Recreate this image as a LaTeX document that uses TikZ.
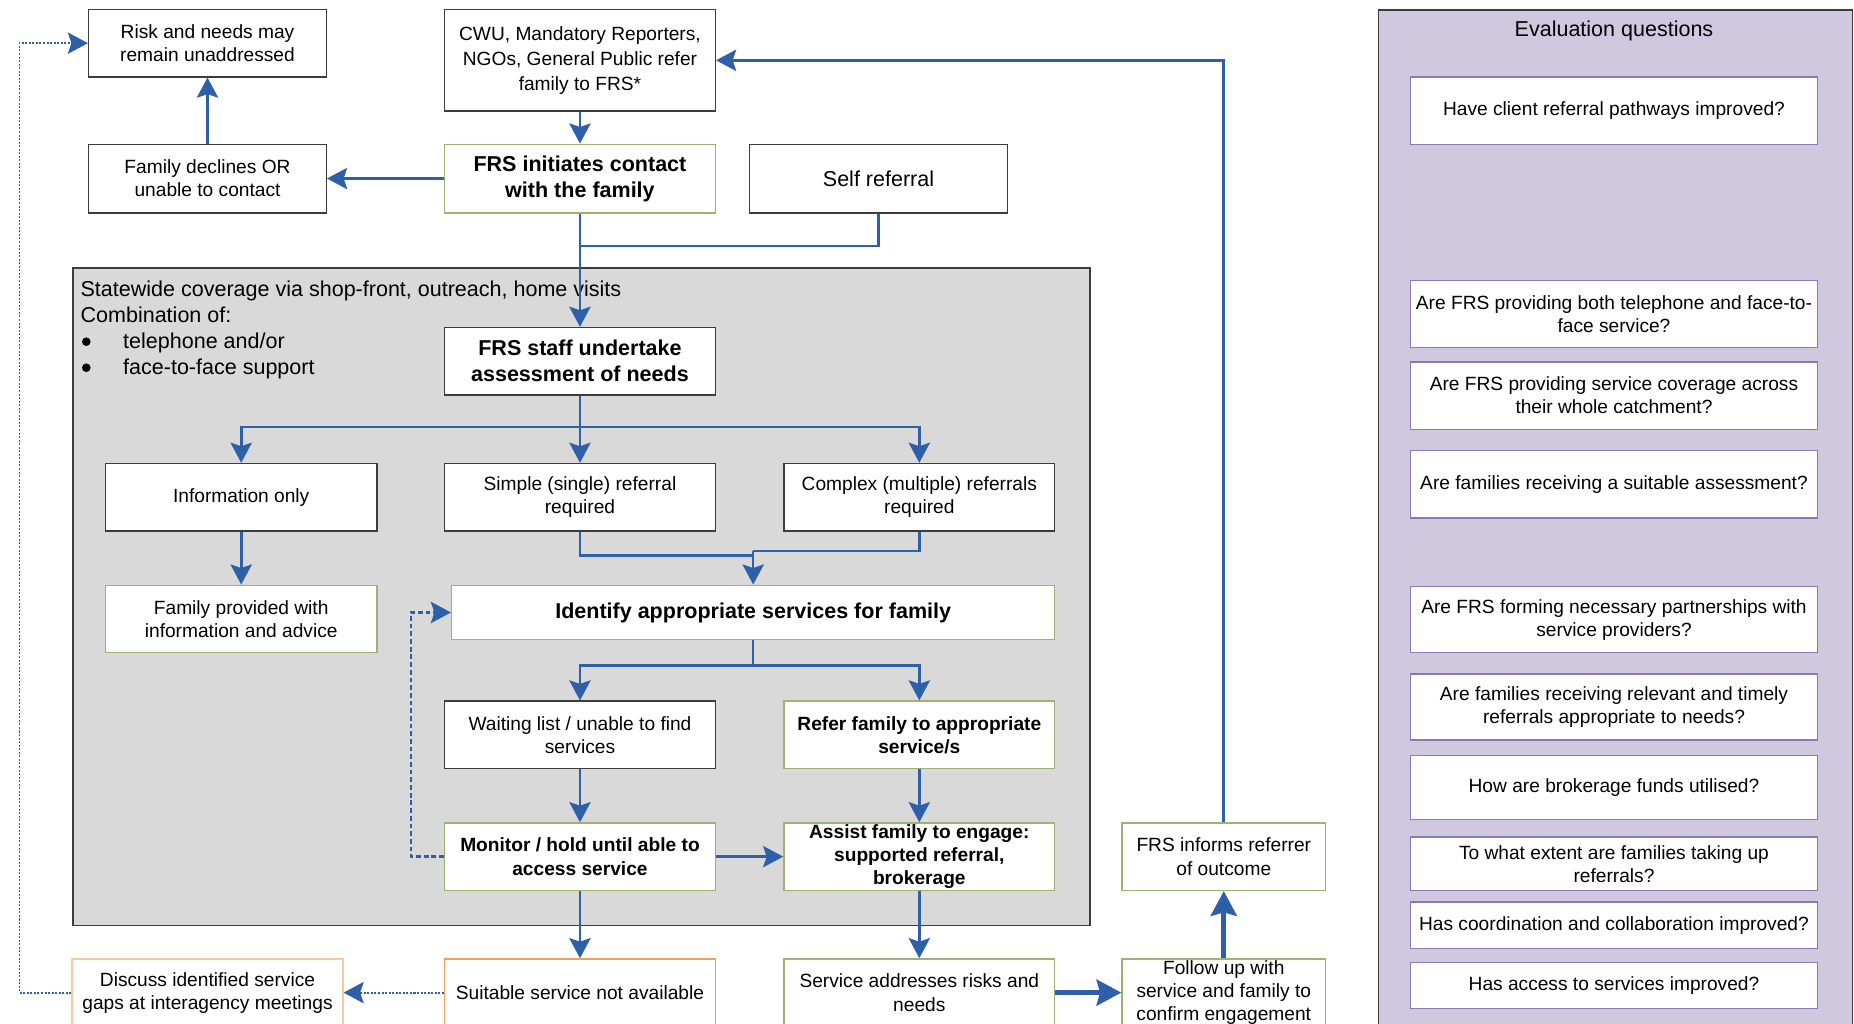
\documentclass[tikz,border=0pt]{standalone}
\usepackage{fontspec}
\setmainfont{Liberation Sans}
\usetikzlibrary{arrows.meta}
\definecolor{cblue}{RGB}{46,96,170}
\definecolor{cgreen}{RGB}{158,178,118}
\definecolor{corange}{RGB}{242,160,90}
\definecolor{cpeach}{RGB}{250,200,160}
\definecolor{cgrayfill}{RGB}{217,217,217}
\definecolor{cpurple}{RGB}{208,200,222}
\definecolor{cpurpleline}{RGB}{140,120,180}
\definecolor{cdark}{RGB}{60,60,60}
\newcommand\fsn{\fontsize{16.2}{19.5}\selectfont}
\newcommand\fsnb{\fontsize{16.2}{19.5}\selectfont\bfseries}
\newcommand\fsb{\fontsize{18.2}{22}\selectfont\bfseries}
\newcommand\fsl{\fontsize{18.2}{22}\selectfont}
\begin{document}
\begin{tikzpicture}[x=1pt,y=-1pt,
  box/.style={draw=cdark, line width=1.2pt, fill=white, align=center, inner xsep=2pt, inner ysep=1pt, font=\fsn},
  gbox/.style={box, draw=cgreen},
  obox/.style={box, draw=corange},
  pbox/.style={box, draw=cpeach},
  qbox/.style={box, draw=cpurpleline, minimum width=344pt},
  conn/.style={draw=cblue, line width=2.2pt},
  arr/.style={conn, -{Stealth[length=17pt,width=18pt,inset=3pt]}},
  thickarr/.style={draw=cblue, line width=4pt, -{Stealth[length=21pt,width=22pt,inset=3pt]}},
  dasharr/.style={draw=cblue, line width=2pt, dash pattern=on 4pt off 2.5pt, -{Stealth[length=17pt,width=18pt,inset=3pt]}},
  dotarr/.style={draw=cblue, line width=1.5pt, dash pattern=on 1.7pt off 1.3pt, -{Stealth[length=17pt,width=18pt,inset=3pt]}},
  txt/.style={anchor=base west, inner sep=0pt, font=\fsl},
  bullet/.style={circle, fill=black, inner sep=0pt, minimum size=7.3pt}
]
\useasboundingbox (0,0) rectangle (1568,866);
\clip (0,0) rectangle (1568,866);
\fill[white] (0,0) rectangle (1568,866);

% panels
\node[draw=cdark, line width=1.5pt, fill=cgrayfill, anchor=north west, minimum width=860pt, minimum height=556pt, inner sep=0pt] (panel) at (61,226) {};
\node[draw=cdark, line width=1.5pt, fill=cpurple, anchor=north west, minimum width=401pt, minimum height=900pt, inner sep=0pt] (evalpanel) at (1165,8) {};
\node[font=\fsl] (evtitle) at (1365,26) {Evaluation questions};

% panel text
\node[txt] (sw1) at (68,250.5) {Statewide coverage via shop-front, outreach, home visits};
\node[txt] (sw2) at (68,272.5) {Combination of:};
\node[bullet] (bul1) at (73,289) {};
\node[txt] (sw3) at (104,294.5) {telephone and/or};
\node[bullet] (bul2) at (73,311) {};
\node[txt] (sw4) at (104,316.5) {face-to-face support};

% flow boxes
\node[box, minimum width=201pt, minimum height=57pt] (risk) at (175.5,36.5) {Risk and needs may\\remain unaddressed};
\node[box, minimum width=229pt, minimum height=86pt, font=\fontsize{16.2}{21}\selectfont] (cwu) at (490.5,51) {CWU, Mandatory Reporters,\\NGOs, General Public refer\\family to FRS*};
\node[box, minimum width=201pt, minimum height=58pt] (decl) at (175.5,151) {Family declines OR\\unable to contact};
\node[gbox, minimum width=229pt, minimum height=58pt, font=\fsb] (init) at (490.5,151) {FRS initiates contact\\with the family};
\node[box, minimum width=218pt, minimum height=58pt, font=\fsl] (self) at (743,151) {Self referral};
\node[box, minimum width=229pt, minimum height=57pt, font=\fsb] (staff) at (490.5,305.5) {FRS staff undertake\\assessment of needs};
\node[box, minimum width=230pt, minimum height=57pt] (info) at (204,420.5) {Information only};
\node[box, minimum width=229pt, minimum height=57pt] (simple) at (490.5,420.5) {Simple (single) referral\\required};
\node[box, minimum width=229pt, minimum height=57pt] (complex) at (777.5,420.5) {Complex (multiple) referrals\\required};
\node[gbox, minimum width=230pt, minimum height=57pt] (provided) at (204,523.5) {Family provided with\\information and advice};
\node[gbox, minimum width=510pt, minimum height=46pt, font=\fsb] (identify) at (637,518) {Identify appropriate services for family};
\node[box, minimum width=229pt, minimum height=57pt] (waiting) at (490.5,621.5) {Waiting list / unable to find\\services};
\node[gbox, minimum width=229pt, minimum height=57pt, font=\fsnb] (refer) at (777.5,621.5) {Refer family to appropriate\\service/s};
\node[gbox, minimum width=229pt, minimum height=57pt, font=\fsnb] (monitor) at (490.5,724.5) {Monitor / hold until able to\\access service};
\node[gbox, minimum width=229pt, minimum height=57pt, inner ysep=0pt, font=\fsnb] (assist) at (777.5,724.5) {Assist family to engage:\\supported referral,\\brokerage};
\node[gbox, minimum width=172pt, minimum height=57pt] (informs) at (1035,724.5) {FRS informs referrer\\of outcome};
\node[pbox, minimum width=229pt, minimum height=57pt] (discuss) at (175.5,839.5) {Discuss identified service\\gaps at interagency meetings};
\node[obox, minimum width=229pt, minimum height=57pt] (suitable) at (490.5,839.5) {Suitable service not available};
\node[gbox, minimum width=229pt, minimum height=57pt] (service) at (777.5,839.5) {Service addresses risks and\\needs};
\node[gbox, minimum width=172pt, minimum height=57pt, inner ysep=0pt] (follow) at (1035,839.5) {Follow up with\\service and family to\\confirm engagement};

% question boxes
\node[qbox, minimum height=57pt] (q1) at (1365,93.5) {Have client referral pathways improved?};
\node[qbox, minimum height=57pt] (q2) at (1365,265.5) {Are FRS providing both telephone and face-to-\\face service?};
\node[qbox, minimum height=57pt] (q3) at (1365,334.5) {Are FRS providing service coverage across\\their whole catchment?};
\node[qbox, minimum height=57pt] (q4) at (1365,409.5) {Are families receiving a suitable assessment?};
\node[qbox, minimum height=56pt] (q5) at (1365,524) {Are FRS forming necessary partnerships with\\service providers?};
\node[qbox, minimum height=56pt] (q6) at (1365,598) {Are families receiving relevant and timely\\referrals appropriate to needs?};
\node[qbox, minimum height=54pt] (q7) at (1365,666) {How are brokerage funds utilised?};
\node[qbox, minimum height=45pt, inner ysep=0pt] (q8) at (1365,730.5) {To what extent are families taking up\\referrals?};
\node[qbox, minimum height=39pt] (q9) at (1365,782.5) {Has coordination and collaboration improved?};
\node[qbox, minimum height=39pt] (q10) at (1365,833.5) {Has access to services improved?};

% junction coordinates
\coordinate (j1) at (490.5,208);
\coordinate (b1) at (490.5,361);
\coordinate (m1) at (637,470);
\coordinate (m2) at (637,466);
\coordinate (b2) at (637,563);
\coordinate (top) at (1035,51);

% connectors
\draw[arr] (cwu) -- (init);
\draw[arr] (init) -- (decl);
\draw[arr] (decl) -- (risk);
\draw[conn] (self.south) |- (j1);
\draw[arr] (init) -- (staff);
\draw[conn] (staff.south) -- (b1);
\draw[arr] (b1) -| (info.north);
\draw[arr] (b1) -- (simple.north);
\draw[arr] (b1) -| (complex.north);
\draw[arr] (info) -- (provided);
\draw[conn] (simple.south) |- (m1);
\draw[conn] (complex.south) |- (m2);
\draw[arr] (m2) -- (identify.north);
\draw[conn] (identify.south) -- (b2);
\draw[arr] (b2) -| (waiting.north);
\draw[arr] (b2) -| (refer.north);
\draw[arr] (waiting) -- (monitor);
\draw[arr] (refer) -- (assist);
\draw[arr] (monitor) -- (assist);
\draw[dasharr] (monitor.west) -- ++(-28,0) |- (identify.west);
\draw[arr] (monitor) -- (suitable);
\draw[arr] (assist) -- (service);
\draw[dotarr] (suitable) -- (discuss);
\draw[dotarr] (discuss.west) -- ++(-44,0) |- (risk.west);
\draw[thickarr] (service) -- (follow);
\draw[thickarr] (follow) -- (informs);
\draw[arr] (informs.north) -- (top) -- (cwu.east);
\end{tikzpicture}
\end{document}
